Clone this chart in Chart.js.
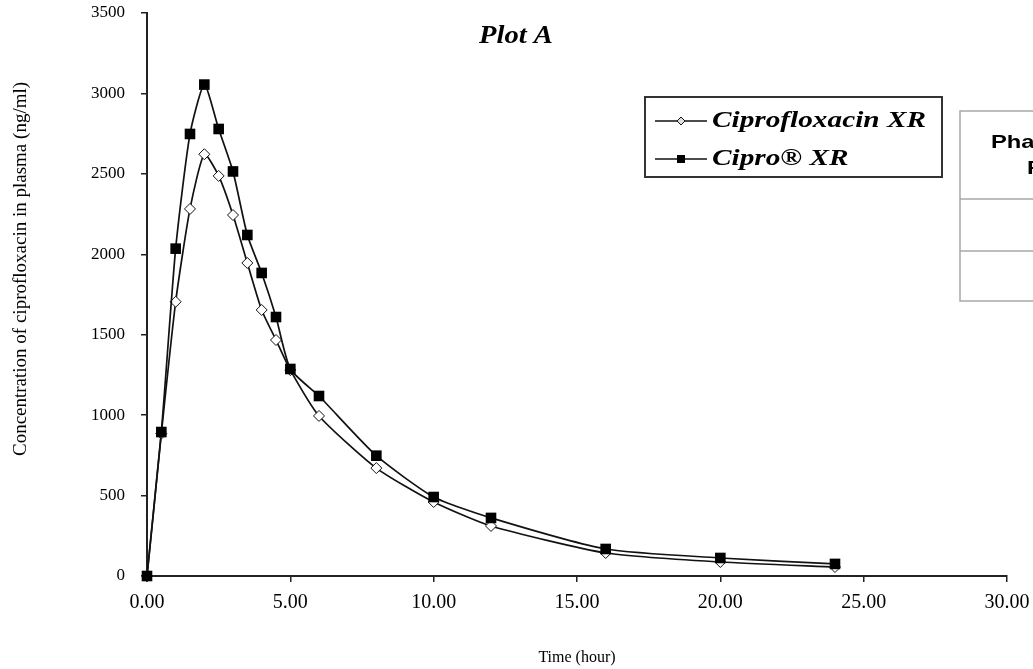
<!DOCTYPE html>
<html>
<head>
<meta charset="utf-8">
<script src="https://cdn.jsdelivr.net/npm/chart.js@4"></script>
<style>
html,body{margin:0;padding:0;background:#fff;}
#wrap{width:1033px;height:669px;position:relative;}
</style>
</head>
<body>
<div id="wrap"><canvas id="c" width="1033" height="669"></canvas></div>
<script>
// ---- Data ----
const timeHours = [0, 0.5, 1, 1.5, 2, 2.5, 3, 3.5, 4, 4.5, 5, 6, 8, 10, 12, 16, 20, 24];
const ciprofloxacinXR = [0, 885, 1705, 2282, 2622, 2487, 2244, 1946, 1654, 1467, 1280, 995, 671, 460, 311, 143, 87, 56];
const ciproXR = [0, 895, 2035, 2748, 3055, 2779, 2515, 2120, 1884, 1610, 1287, 1119, 748, 491, 361, 168, 112, 75];
const seriesNames = ['Ciprofloxacin XR', 'Cipro\u00AE XR'];
const yTicks = [0, 500, 1000, 1500, 2000, 2500, 3000, 3500];
const xTicks = [0, 5, 10, 15, 20, 25, 30];
const chartTitle = 'Plot A';
const xTitle = 'Time (hour)';
const yTitle = 'Concentration of ciprofloxacin in plasma (ng/ml)';
const tableLines = ['Pharmacokinetic', 'Parameters'];

const SERIF = '"Liberation Serif", "Times New Roman", serif';
const SANS = '"Liberation Sans", Arial, sans-serif';

const toXY = (xs, ys) => xs.map((x, i) => ({x: x, y: ys[i]}));

function stretchedText(ctx, text, x, y, sx, align, rot) {
  ctx.save();
  ctx.translate(x, y);
  if (rot) ctx.rotate(rot);
  ctx.scale(sx, 1);
  ctx.textAlign = align;
  ctx.textBaseline = 'middle';
  ctx.fillText(text, 0, 0);
  ctx.restore();
}

const overlay = {
  id: 'overlay',
  afterDraw(chart) {
    const ctx = chart.ctx;
    ctx.save();
    // Title
    ctx.fillStyle = '#000';
    ctx.font = 'italic bold 26px ' + SERIF;
    stretchedText(ctx, chartTitle, 516, 36, 1.1, 'center');

    // Y axis title
    ctx.font = '19px ' + SERIF;
    stretchedText(ctx, yTitle, 21, 269, 1.0, 'center', -Math.PI / 2);

    // Legend box
    ctx.strokeStyle = '#333';
    ctx.lineWidth = 2;
    ctx.strokeRect(645, 97, 297, 80);
    const rows = [
      {y: 121, style: 'diamond', name: seriesNames[0]},
      {y: 159, style: 'square', name: seriesNames[1]}
    ];
    rows.forEach(r => {
      ctx.strokeStyle = '#111';
      ctx.lineWidth = 1.5;
      ctx.beginPath();
      ctx.moveTo(655, r.y);
      ctx.lineTo(707, r.y);
      ctx.stroke();
      if (r.style === 'diamond') {
        ctx.fillStyle = '#ddd';
        ctx.lineWidth = 1;
        ctx.beginPath();
        ctx.moveTo(681, r.y - 4);
        ctx.lineTo(685, r.y);
        ctx.lineTo(681, r.y + 4);
        ctx.lineTo(677, r.y);
        ctx.closePath();
        ctx.fill();
        ctx.stroke();
      } else {
        ctx.fillStyle = '#000';
        ctx.fillRect(677, r.y - 4, 8, 8);
      }
      ctx.fillStyle = '#000';
      ctx.font = 'italic bold 24px ' + SERIF;
      stretchedText(ctx, r.name, 712, r.y, 1.22, 'left');
    });

    // Partial table at right edge
    ctx.strokeStyle = '#a8a8a8';
    ctx.lineWidth = 1.5;
    ctx.strokeRect(960, 111, 120, 190);
    ctx.beginPath();
    ctx.moveTo(960, 199); ctx.lineTo(1040, 199);
    ctx.moveTo(960, 251); ctx.lineTo(1040, 251);
    ctx.stroke();
    ctx.fillStyle = '#000';
    ctx.font = 'bold 19px ' + SANS;
    stretchedText(ctx, tableLines[0], 991, 143, 1.25, 'left');
    stretchedText(ctx, tableLines[1], 1027, 169, 1.25, 'left');
    ctx.restore();
  }
};

new Chart(document.getElementById('c'), {
  type: 'line',
  data: {
    datasets: [
      {
        label: seriesNames[0],
        data: toXY(timeHours, ciprofloxacinXR),
        borderColor: '#111',
        borderWidth: 1.7,
        pointStyle: 'rectRot',
        pointRadius: 5.5,
        pointBackgroundColor: '#fff',
        pointBorderColor: '#111',
        pointBorderWidth: 1,
        tension: 0.2,
        clip: false,
        order: 1
      },
      {
        label: seriesNames[1],
        data: toXY(timeHours, ciproXR),
        borderColor: '#111',
        borderWidth: 1.7,
        pointStyle: 'rect',
        pointRadius: 7.5,
        pointBackgroundColor: '#000',
        pointBorderColor: '#000',
        pointBorderWidth: 0,
        tension: 0.2,
        clip: false,
        order: 0
      }
    ]
  },
  options: {
    responsive: false,
    animation: false,
    layout: {padding: {left: 0, right: 26, top: 13, bottom: 0}},
    plugins: {legend: {display: false}, tooltip: {enabled: false}, title: {display: false}},
    scales: {
      x: {
        type: 'linear',
        min: 0, max: 30,
        afterBuildTicks: (s) => { s.ticks = xTicks.map(v => ({value: v})); },
        afterFit: (s) => { s.height = 93; s.paddingLeft = 0; s.paddingRight = 0; },
        grid: {display: true, drawOnChartArea: false, drawTicks: true, tickLength: 6, color: '#222', lineWidth: 1.5},
        border: {display: true, color: '#222', width: 2},
        ticks: {
          color: '#000',
          padding: 9,
          maxRotation: 0,
          font: {family: SERIF, size: 20},
          callback: (v) => Number(v).toFixed(2)
        },
        title: {display: true, text: xTitle, color: '#000', font: {family: SERIF, size: 16}, padding: {top: 0, bottom: 2}}
      },
      y: {
        type: 'linear',
        min: 0, max: 3500,
        afterBuildTicks: (s) => { s.ticks = yTicks.map(v => ({value: v})); },
        afterFit: (s) => { s.width = 147; s.paddingTop = 0; s.paddingBottom = 0; },
        grid: {display: true, drawOnChartArea: false, drawTicks: true, tickLength: 6, color: '#222', lineWidth: 1.5},
        border: {display: true, color: '#222', width: 2},
        ticks: {
          color: '#000',
          padding: 16,
          font: {family: SERIF, size: 17},
          callback: (v) => String(v)
        },
        title: {display: false}
      }
    }
  },
  plugins: [overlay]
});
</script>
</body>
</html>
